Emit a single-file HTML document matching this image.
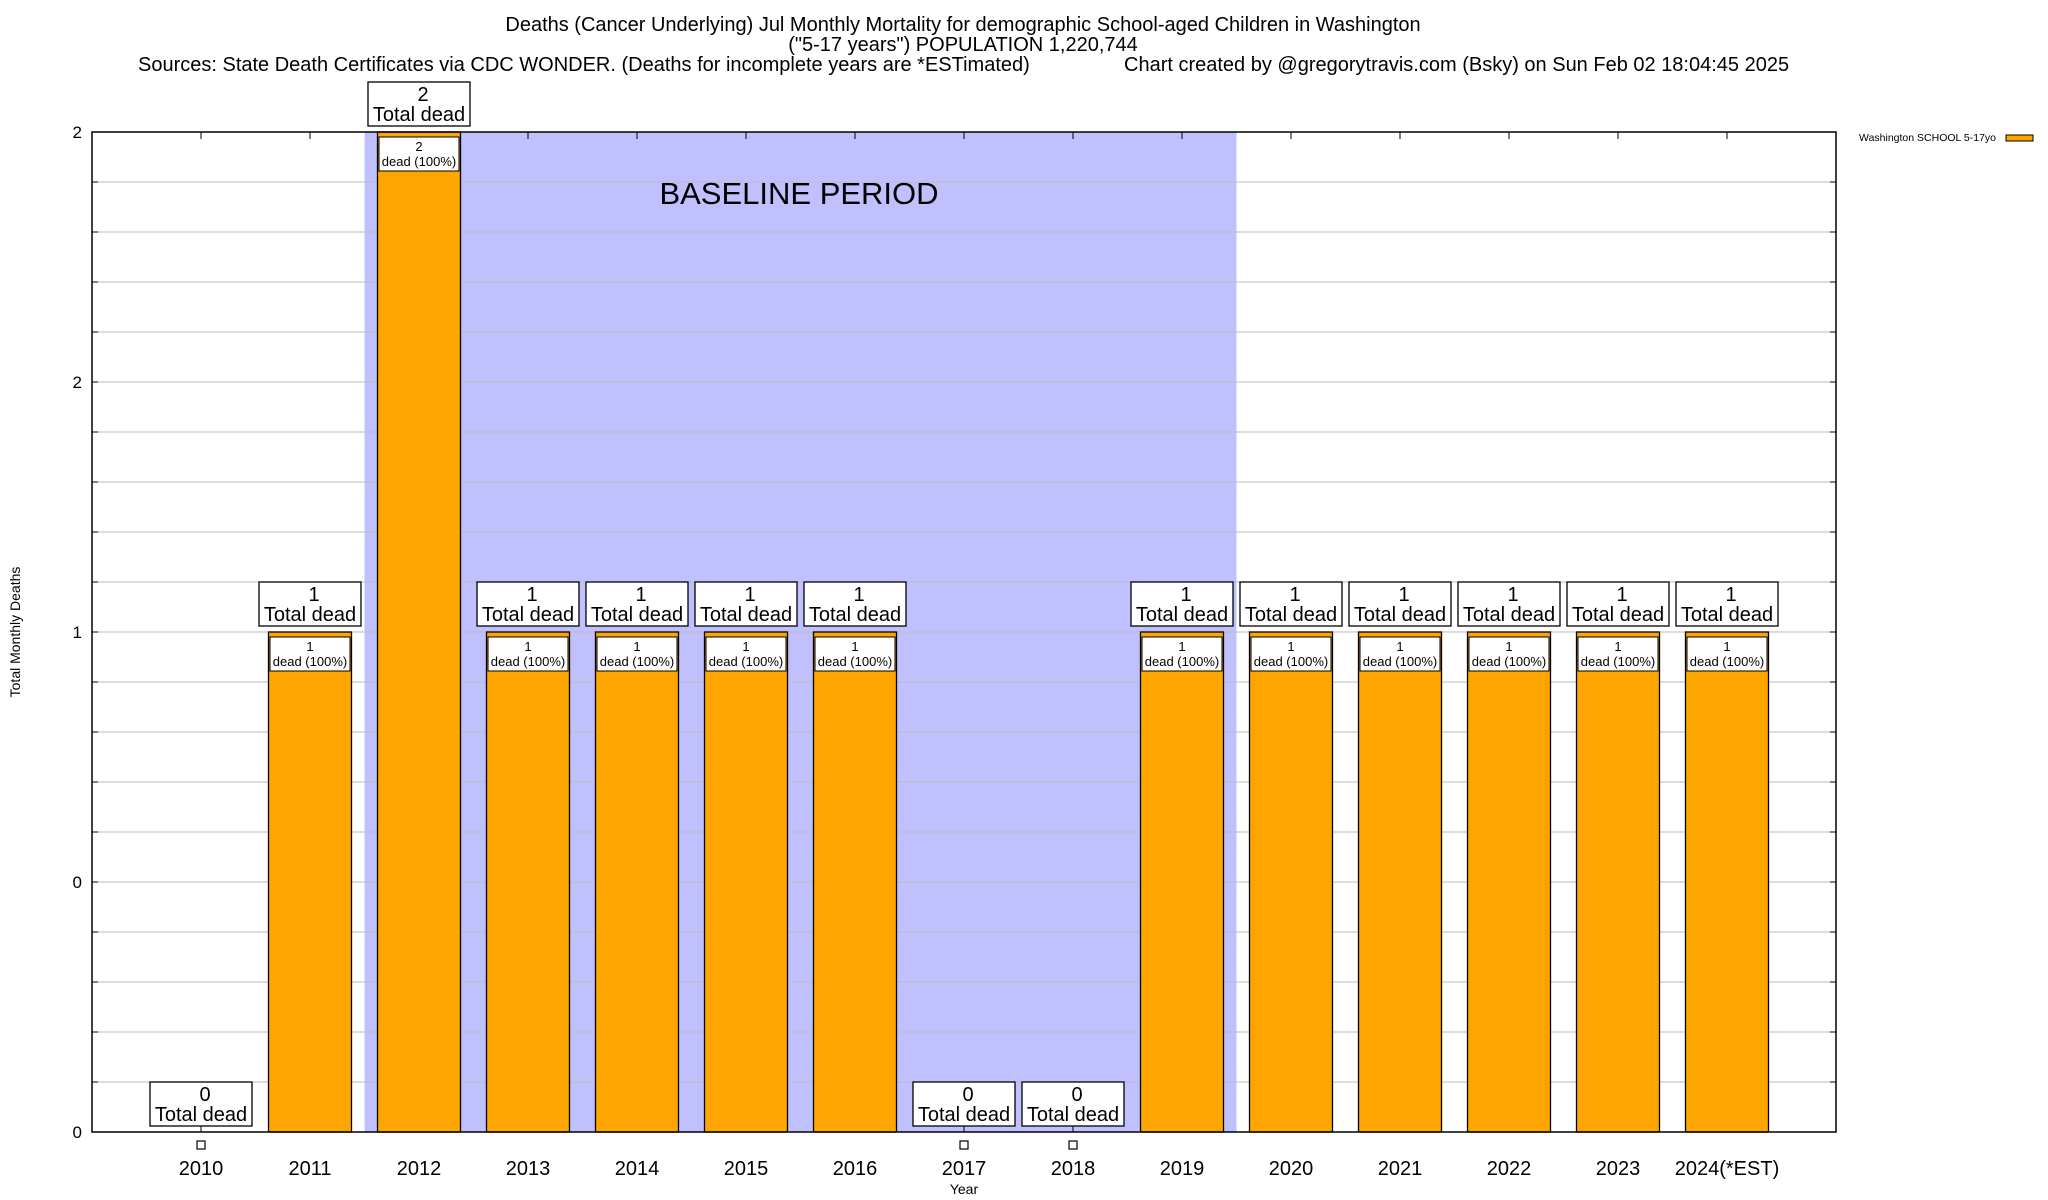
<!DOCTYPE html>
<html><head><meta charset="utf-8"><style>
body{margin:0;background:#fff;}
svg{display:block;font-family:"Liberation Sans",sans-serif;}
</style></head><body>
<svg id="chart" width="2048" height="1200" viewBox="0 0 2048 1200">
<text x="963" y="31" font-size="20" text-anchor="middle">Deaths (Cancer Underlying) Jul Monthly Mortality for demographic School-aged Children in Washington</text>
<text x="963" y="51" font-size="20" text-anchor="middle">("5-17 years") POPULATION 1,220,744</text>
<text x="138" y="71" font-size="20">Sources: State Death Certificates via CDC WONDER. (Deaths for incomplete years are *ESTimated)</text>
<text x="1124" y="71" font-size="20">Chart created by @gregorytravis.com (Bsky) on Sun Feb 02 18:04:45 2025</text>
<text x="20" y="632" font-size="14" text-anchor="middle" transform="rotate(-90 20 632)">Total Monthly Deaths</text>
<text x="964" y="1194" font-size="14" text-anchor="middle">Year</text>
<text x="1996" y="141" font-size="10.5" text-anchor="end">Washington SCHOOL 5-17yo</text>
<rect x="2006" y="135" width="27" height="6" fill="#ffa500" stroke="#000" stroke-width="1"/>
<g id="plot"></g>
</svg>
<script>
const years=["2010","2011","2012","2013","2014","2015","2016","2017","2018","2019","2020","2021","2022","2023","2024(*EST)"];
const deaths=[0,1,2,1,1,1,1,0,0,1,1,1,1,1,1];
const baselineStart=1.5, baselineEnd=9.5;
const yTickVals=[0,0.5,1,1.5,2];
const yTickLabels=["0","0","1","2","2"];
const L=92,R=1836,T=132,B=1132,YMAX=2;
const X=i=>L+(i+1)*(R-L)/16;
const Y=v=>B-(v/YMAX)*(B-T);
const NS="http://www.w3.org/2000/svg";
const g=document.getElementById('plot');
function mk(t,a,p){const e=document.createElementNS(NS,t);for(const k in a)e.setAttribute(k,a[k]);(p||g).appendChild(e);return e;}
let band=mk('rect',{x:X(baselineStart),y:T,width:X(baselineEnd)-X(baselineStart),height:B-T,fill:'#c0c0ff'});


let bt=mk('text',{x:799,y:204,'font-size':31,'text-anchor':'middle'});bt.textContent='BASELINE PERIOD';


for(let k=1;k<20;k++){const v=k*0.1;const y=Y(v);
 let gl=mk('line',{x1:L,x2:R,y1:y,y2:y,stroke:'#bbb','stroke-width':1});
 
 
 mk('line',{x1:L,x2:L+6,y1:y,y2:y,stroke:'#000'});mk('line',{x1:R-6,x2:R,y1:y,y2:y,stroke:'#000'});}
yTickVals.forEach((v,i)=>{let t=mk('text',{x:82,y:Y(v)+6,'font-size':17,'text-anchor':'end'});t.textContent=yTickLabels[i];
 
 });
const bw=83;
years.forEach((yr,i)=>{const cx=X(i);
 mk('line',{x1:cx,x2:cx,y1:T,y2:T+7,stroke:'#000'});mk('line',{x1:cx,x2:cx,y1:B-7,y2:B,stroke:'#000'});
 let tl=mk('text',{x:cx,y:1175,'font-size':20,'text-anchor':'middle'});tl.textContent=yr;
 
 
 const v=deaths[i];
 if(v>0){
  let b=mk('rect',{x:cx-bw/2,y:Y(v),width:bw,height:B-Y(v),fill:'#ffa500',stroke:'#000','stroke-width':1.3});
  
  
  mk('rect',{x:cx-bw/2+1.5,y:Y(v)+5,width:bw-3,height:34,fill:'#fff',stroke:'#000','stroke-width':1});
  let a=mk('text',{x:cx,y:Y(v)+19,'font-size':13,'text-anchor':'middle'});a.textContent=v;
  let c=mk('text',{x:cx,y:Y(v)+34,'font-size':13,'text-anchor':'middle'});c.textContent='dead (100%)';
  
  
 } else {
  mk('rect',{x:cx-4,y:1141,width:8,height:8,fill:'#fff',stroke:'#000','stroke-width':1.2});
 }
 const top=(v>0?Y(v)-6:B-6);
 mk('rect',{x:cx-51,y:top-44,width:102,height:44,fill:'#fff',stroke:'#000','stroke-width':1.3});
 let n=mk('text',{x:cx+4,y:top-25,'font-size':20,'text-anchor':'middle'});n.textContent=v;
 let td=mk('text',{x:cx,y:top-5,'font-size':20,'text-anchor':'middle'});td.textContent='Total dead';
 
 
});
let fr=mk('rect',{x:L,y:T,width:R-L,height:B-T,fill:'none',stroke:'#000','stroke-width':1.5});


</script>
</body></html>
